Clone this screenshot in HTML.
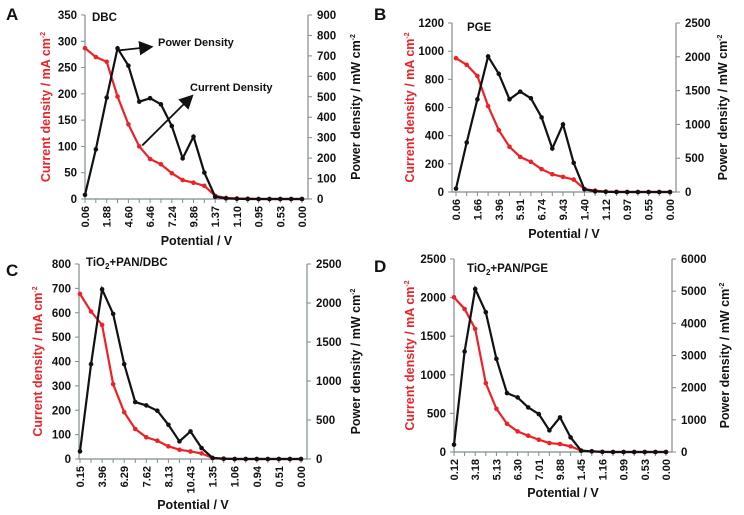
<!DOCTYPE html>
<html><head><meta charset="utf-8"><style>
html,body{margin:0;padding:0;background:#fff;}
svg{display:block;font-family:"Liberation Sans",sans-serif;font-weight:bold;}
</style></head><body>
<svg id="chart" width="744" height="515" viewBox="0 0 744 515" xmlns="http://www.w3.org/2000/svg"></svg>
<script>
// Panel A (DBC)
const catsA = ["0.06","","1.88","","4.60","","6.46","","7.24","","9.86","","1.37","","1.10","","0.95","","0.53","","0.00"];
const currentA = [287,270,261,195,142,100,76,66,49,36,31,25,6,2,1,0.5,0,0,0,0,0];
const powerA = [20,243,496,737,652,476,493,463,357,199,305,129,11,3,1,0,0,0,0,0,0];
const leftTicksA = [0,50,100,150,200,250,300,350];
const rightTicksA = [0,100,200,300,400,500,600,700,800,900];
// Panel B (PGE)
const catsB = ["0.06","","1.66","","3.96","","5.91","","6.74","","9.43","","1.40","","1.12","","0.97","","0.55","","0.00"];
const currentB = [950,903,824,610,439,321,249,214,162,126,107,88,21,10,3,1,0,0,0,0,0];
const powerB = [50,733,1371,2005,1748,1371,1485,1386,1104,644,1000,431,40,10,3,0,0,0,0,0,0];
const leftTicksB = [0,200,400,600,800,1000,1200];
const rightTicksB = [0,500,1000,1500,2000,2500];
// Panel C (TiO2+PAN/DBC)
const catsC = ["0.15","","3.96","","6.29","","7.62","","8.13","","10.43","","1.35","","1.06","","0.94","","0.51","","0.00"];
const currentC = [677,605,550,307,192,123,89,75,52,38,31,23,4,1,0,0,0,0,0,0,0];
const powerC = [98,1216,2175,1860,1216,730,687,619,439,226,354,141,13,4,0,0,0,0,0,0,0];
const leftTicksC = [0,100,200,300,400,500,600,700,800];
const rightTicksC = [0,500,1000,1500,2000,2500];
// Panel D (TiO2+PAN/PGE)
const catsD = ["0.12","","3.18","","5.13","","6.30","","7.01","","9.88","","1.45","","1.16","","0.99","","0.53","","0.00"];
const currentD = [2004,1853,1595,892,560,366,267,211,159,116,103,73,17,9,2,0,0,0,0,0,0];
const powerD = [228,3124,5069,4345,2897,1831,1697,1386,1179,672,1076,455,41,21,3,0,0,0,0,0,0];
const leftTicksD = [0,500,1000,1500,2000,2500];
const rightTicksD = [0,1000,2000,3000,4000,5000,6000];

const NS = "http://www.w3.org/2000/svg";
const svg = document.getElementById('chart');
function mk(tag, attrs, parent, text){
  const e = document.createElementNS(NS, tag);
  for (const k in attrs) e.setAttribute(k, attrs[k]);
  if (text !== undefined) e.textContent = text;
  (parent||svg).appendChild(e);
  return e;
}
const RED = "#ec2228";

function panel(cfg, cats, cur, pow, lt, rt){
  const g = mk('g', {});
  
  
  const n = cats.length;
  const x = i => cfg.x0 + i*(cfg.x1-cfg.x0)/(n-1);
  const yl = v => cfg.yb - v/lt[lt.length-1]*(cfg.yb-cfg.yt);
  const yr = v => cfg.yb - v/rt[rt.length-1]*(cfg.yb-cfg.yt);
  // axes
  const ax = mk('path', {d:`M${cfg.lx},${cfg.yt} V${cfg.yb} H${cfg.rx} V${cfg.yt}`, fill:'none', stroke:'#7f8c8d', 'stroke-width':1.2}, g);
  
  
  lt.forEach(v => {
    mk('line', {x1:cfg.lx-4, x2:cfg.lx, y1:yl(v), y2:yl(v), stroke:'#7f8c8d'}, g);
    const t = mk('text', {x:cfg.lx-8, y:yl(v)+4, 'text-anchor':'end', 'font-size':11.5, fill:'#111'}, g, v);
    
    
  });
  rt.forEach(v => {
    mk('line', {x1:cfg.rx, x2:cfg.rx+4, y1:yr(v), y2:yr(v), stroke:'#7f8c8d'}, g);
    const t = mk('text', {x:cfg.rx+9, y:yr(v)+4, 'text-anchor':'start', 'font-size':11.5, fill:'#111'}, g, v);
    
    
  });
  cats.forEach((c,i) => {
    mk('line', {x1:x(i), x2:x(i), y1:cfg.yb, y2:cfg.yb+4, stroke:'#7f8c8d'}, g);
    if (c) {
      const t = mk('text', {transform:`translate(${x(i)+4},${cfg.yb+7}) rotate(-90)`, 'text-anchor':'end', 'font-size':11, fill:'#111'}, g, c);
      
      
    }
  });
  // series
  const lineC = mk('polyline', {points:cur.map((v,i)=>x(i)+','+yl(v)).join(' '), fill:'none', stroke:RED, 'stroke-width':2.2}, g);
  
  
  cur.forEach((v,i) => {
    const p = mk('circle', {cx:x(i), cy:yl(v), r:2.3, fill:RED}, g);
    
    
  });
  const lineP = mk('polyline', {points:pow.map((v,i)=>x(i)+','+yr(v)).join(' '), fill:'none', stroke:'#111', 'stroke-width':2.2}, g);
  
  
  pow.forEach((v,i) => {
    const p = mk('circle', {cx:x(i), cy:yr(v), r:2.3, fill:'#111'}, g);
    
    
  });
  // titles
  const cy = (cfg.yt+cfg.yb)/2;
  const lt1 = mk('text', {transform:`translate(${cfg.ltx},${cy}) rotate(-90)`, 'text-anchor':'middle', 'font-size':12.5, fill:RED}, g);
  
  
  lt1.innerHTML = 'Current density / mA cm<tspan dy="-5" font-size="7">-2</tspan>';
  const rt1 = mk('text', {transform:`translate(${cfg.rtx},${cy}) rotate(-90)`, 'text-anchor':'middle', 'font-size':12.5, fill:'#111'}, g);
  
  
  rt1.innerHTML = 'Power density / mW cm<tspan dy="-5" font-size="7">-2</tspan>';
  const xt = mk('text', {x:(cfg.lx+cfg.rx)/2, y:cfg.xty, 'text-anchor':'middle', 'font-size':12.5, fill:'#111'}, g, 'Potential / V');
  
  
  const lb = mk('text', {x:cfg.letx, y:cfg.lety, 'font-size':17, fill:'#111'}, g, cfg.letter);
  
  
  const nm = mk('text', {x:cfg.nx, y:cfg.ny, 'font-size':11.5, fill:'#111'}, g);
  
  
  nm.innerHTML = cfg.name;
  return {g, x, yl, yr};
}

const A = panel({id:'panel-a', lx:85, rx:308, x0:85, x1:302, yt:15, yb:199, ltx:50, rtx:360, xty:245, letx:6, lety:20, letter:'A', nx:92, ny:21, name:'DBC'}, catsA, currentA, powerA, leftTicksA, rightTicksA);
panel({id:'panel-b', lx:452, rx:676, x0:456, x1:670, yt:23, yb:192, ltx:414, rtx:727, xty:238, letx:374, lety:20, letter:'B', nx:467, ny:31, name:'PGE'}, catsB, currentB, powerB, leftTicksB, rightTicksB);
panel({id:'panel-c', lx:79, rx:307, x0:80, x1:301, yt:264, yb:459, ltx:42, rtx:360, xty:509, letx:6, lety:276, letter:'C', nx:86, ny:266, name:'TiO<tspan dy="3" font-size="8">2</tspan><tspan dy="-3">+PAN/DBC</tspan>'}, catsC, currentC, powerC, leftTicksC, rightTicksC);
panel({id:'panel-d', lx:454, rx:672, x0:454, x1:666, yt:259, yb:452, ltx:414, rtx:729, xty:497, letx:374, lety:272, letter:'D', nx:467, ny:272, name:'TiO<tspan dy="3" font-size="8">2</tspan><tspan dy="-3">+PAN/PGE</tspan>'}, catsD, currentD, powerD, leftTicksD, rightTicksD);

// annotations on panel A
mk('defs', {}).innerHTML = '<marker id="ah" markerWidth="8" markerHeight="8" refX="6" refY="4" orient="auto"><path d="M0,0 L8,4 L0,8 z" fill="#111"/></marker>';
const a1 = mk('line', {x1:A.x(3)+2, y1:A.yr(powerA[3])+2, x2:150, y2:47, stroke:'#111', 'stroke-width':1.8, 'marker-end':'url(#ah)'});


const t1 = mk('text', {x:158, y:46, 'font-size':11, fill:'#111'}, svg, 'Power Density');


const a2 = mk('line', {x1:A.x(5)+3, y1:A.yl(currentA[5])-1, x2:191, y2:97, stroke:'#111', 'stroke-width':1.8, 'marker-end':'url(#ah)'});


const t2 = mk('text', {x:190, y:91, 'font-size':11, fill:'#111'}, svg, 'Current Density');


</script>
</body></html>
